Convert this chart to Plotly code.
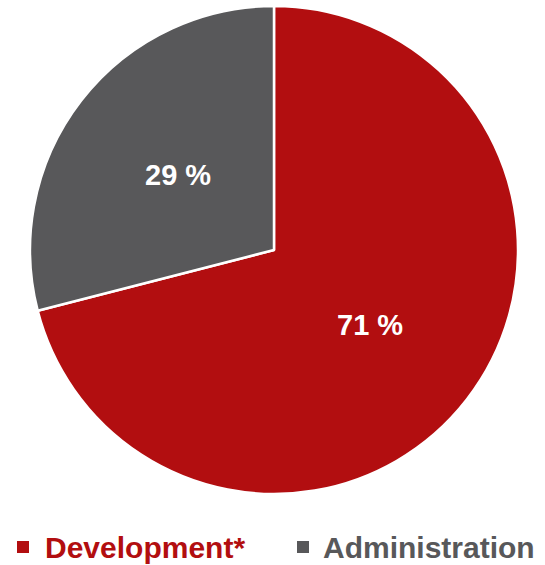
import math
import plotly.graph_objects as go

# Budget split
categories = ["Development*", "Administration"]
shares = [71, 29]
colors = ["#B20E10", "#58585A"]

W, H = 545, 565
CX, CY, R = 274, 250, 244  # pie centre and radius in px

fig = go.Figure(
    go.Pie(
        labels=categories,
        values=shares,
        sort=False,
        direction="clockwise",
        rotation=0,
        marker=dict(colors=colors, line=dict(color="white", width=2.5)),
        textinfo="none",
        hoverinfo="label+percent",
        showlegend=False,
        domain=dict(x=[(CX - R) / W, (CX + R) / W], y=[1 - (CY + R) / H, 1 - (CY - R) / H]),
    )
)

# Percentage labels placed at half radius on each slice's mid angle
total = sum(shares)
start = 0.0
for val in shares:
    mid = (start + val / 2) / total * 2 * math.pi
    start += val
    px = CX + 0.5 * R * math.sin(mid)
    py = CY - 0.5 * R * math.cos(mid)
    fig.add_annotation(
        x=px / W, y=1 - py / H, xref="paper", yref="paper",
        text=f"{round(val / total * 100)} %", showarrow=False,
        font=dict(family="Liberation Sans, Arial, sans-serif", size=29, color="white", weight="bold"),
        xanchor="center", yanchor="middle",
    )

# Legend row
legend_items = [(17, 43), (297, 321)]
for (sq_x, tx), name, col in zip(legend_items, categories, colors):
    fig.add_shape(
        type="rect", xref="paper", yref="paper",
        x0=sq_x / W, x1=(sq_x + 12) / W, y0=1 - 553 / H, y1=1 - 541 / H,
        fillcolor=col, line=dict(width=0),
    )
    fig.add_annotation(
        x=tx / W, y=1 - 547 / H, xref="paper", yref="paper",
        text=name, showarrow=False,
        font=dict(family="Liberation Sans, Arial, sans-serif", size=30, color=col, weight="bold"),
        xanchor="left", yanchor="middle",
    )

fig.update_layout(
    width=W, height=H,
    margin=dict(l=0, r=0, t=0, b=0),
    paper_bgcolor="white", plot_bgcolor="white",
)

fig.write_html("out.html")
